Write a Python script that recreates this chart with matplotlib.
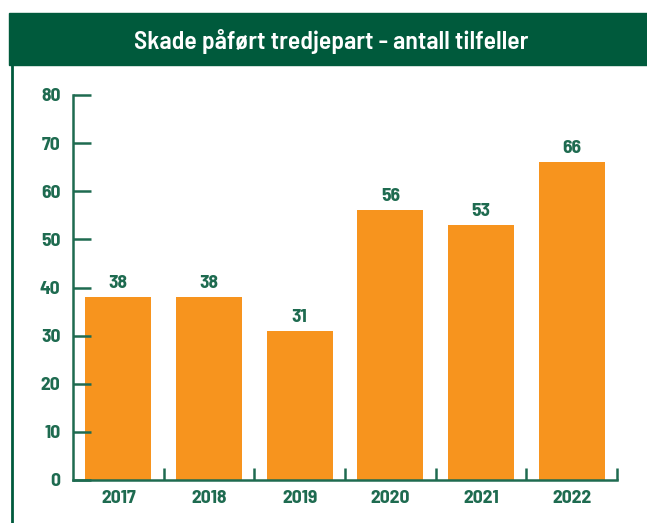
import matplotlib.pyplot as plt
from matplotlib.patches import Rectangle
from matplotlib.lines import Line2D
import numpy as np

years = ['2017', '2018', '2019', '2020', '2021', '2022']
counts = [38, 38, 31, 56, 53, 66]
title = 'Skade påført tredjepart - antall tilfeller'

green = '#005a3c'
axis_green = '#1e6b50'
orange = '#f7941e'
font = ['Barlow Semi Condensed', 'DejaVu Sans']

fig = plt.figure(figsize=(6.47, 5.23), dpi=100)
ax = fig.add_axes([73 / 647, 43 / 523, 544 / 647, 385 / 523])

x = np.arange(len(years))
bars = ax.bar(x, counts, width=0.73, color=orange)
for xi, v in zip(x, counts):
    ax.text(xi, v + 1.1, str(v), ha='center', va='bottom', color=axis_green,
            fontsize=14, fontweight='bold', family=font)

ax.set_xlim(-0.5, len(years) - 0.5)
ax.set_ylim(0, 80)
ax.set_yticks(range(0, 81, 10))
ax.set_xticks(x)
ax.set_xticklabels(years)
ax.set_xticks(np.arange(0.5, len(years)), minor=True)

for s in ['top', 'right']:
    ax.spines[s].set_visible(False)
for s in ['left', 'bottom']:
    ax.spines[s].set_color(axis_green)
    ax.spines[s].set_linewidth(1.8)

ax.tick_params(axis='y', direction='in', length=13, width=1.8, color=axis_green,
               labelcolor=axis_green, labelsize=14, pad=9)
ax.tick_params(axis='x', which='major', length=0, labelcolor=axis_green,
               labelsize=14, pad=7)
ax.tick_params(axis='x', which='minor', direction='in', length=9, width=1.8,
               color=axis_green)
for lab in ax.get_xticklabels() + ax.get_yticklabels():
    lab.set_fontweight('bold')
    lab.set_family(font)

# header band and frame line
fig.patches.append(Rectangle((9 / 647, 1 - 65 / 523), 1, 52 / 523,
                             transform=fig.transFigure, color=green, zorder=0))
fig.lines.append(Line2D([12 / 647, 12 / 647], [0, 1 - 65 / 523],
                        transform=fig.transFigure, color=green, linewidth=2))
fig.text(0.512, 1 - 41 / 523, title, ha='center', va='center', color='white',
         fontsize=18.5, fontweight='semibold', family=font)

fig.savefig('out.png', dpi=100)
